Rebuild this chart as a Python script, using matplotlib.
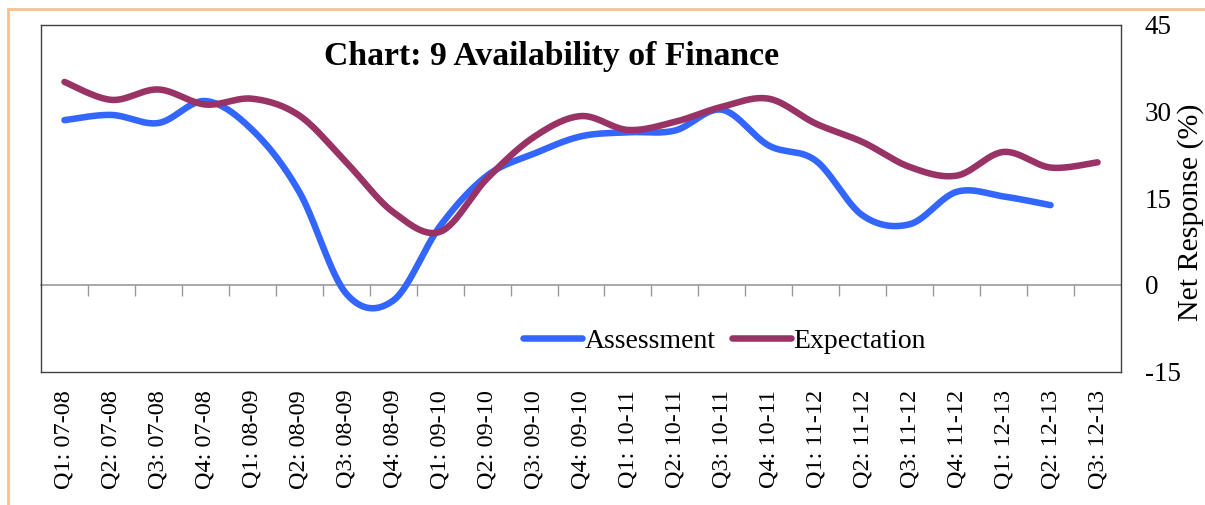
import numpy as np
import matplotlib
matplotlib.use("Agg")
import matplotlib.pyplot as plt
from matplotlib.patches import Rectangle

quarters = ["Q1: 07-08", "Q2: 07-08", "Q3: 07-08", "Q4: 07-08",
            "Q1: 08-09", "Q2: 08-09", "Q3: 08-09", "Q4: 08-09",
            "Q1: 09-10", "Q2: 09-10", "Q3: 09-10", "Q4: 09-10",
            "Q1: 10-11", "Q2: 10-11", "Q3: 10-11", "Q4: 10-11",
            "Q1: 11-12", "Q2: 11-12", "Q3: 11-12", "Q4: 11-12",
            "Q1: 12-13", "Q2: 12-13", "Q3: 12-13"]
assessment = [28.5, 29.4, 28.0, 31.8, 26.8, 16.1, -1.5, -2.7, 10.2, 18.9, 22.7, 25.7,
              26.4, 26.7, 30.3, 24.1, 21.5, 12.0, 10.5, 16.1, 15.3, 13.8]
expectation = [35.1, 32.0, 33.8, 31.2, 32.2, 29.3, 21.2, 12.6, 9.2, 18.4, 25.6, 29.2,
               26.8, 28.2, 30.8, 32.2, 27.9, 24.7, 20.4, 18.9, 23.0, 20.3, 21.2]

plt.rcParams['font.family'] = ['Liberation Serif', 'DejaVu Serif']
plt.rcParams['axes.unicode_minus'] = False


def smooth(y, steps=30):
    # excel-style smoothed line: bezier with catmull-rom control points
    y = np.asarray(y, dtype=float)
    x = np.arange(len(y), dtype=float)
    pts = np.column_stack([x, y])
    out = [pts[0]]
    t = np.linspace(0, 1, steps)[1:, None]
    for i in range(len(pts) - 1):
        p0, p3 = pts[i], pts[i + 1]
        prev = pts[i - 1] if i > 0 else pts[i]
        nxt = pts[i + 2] if i + 2 < len(pts) else pts[i + 1]
        p1 = p0 + (p3 - prev) / 6
        p2 = p3 - (nxt - p0) / 6
        seg = ((1 - t) ** 3 * p0 + 3 * (1 - t) ** 2 * t * p1
               + 3 * (1 - t) * t ** 2 * p2 + t ** 3 * p3)
        out.extend(seg)
    out = np.array(out)
    return out[:, 0], out[:, 1]


fig = plt.figure(figsize=(12.05, 5.05), dpi=100)
ax = fig.add_axes([41 / 1205, 1 - 371.7 / 505, 1080 / 1205, 347 / 505])

xa, ya = smooth(assessment)
xe, ye = smooth(expectation)
ax.plot(xa, ya, color="#3366FF", lw=4.7, solid_capstyle="round", label="Assessment")
ax.plot(xe, ye, color="#993366", lw=4.7, solid_capstyle="round", label="Expectation")

n = len(quarters)
ax.set_xlim(-0.5, n - 0.5)
ax.set_ylim(-15, 45)
ax.set_xticks(range(n))
ax.set_xticklabels(quarters, rotation=90, fontsize=17.5)
ax.tick_params(axis="x", length=0, pad=13)
ax.yaxis.tick_right()
ax.yaxis.set_label_position("right")
ax.set_yticks([-15, 0, 15, 30, 45])
ax.tick_params(axis="y", length=0, pad=17, labelsize=19.5)
ax.set_ylabel("Net Response (%)", fontsize=21.5)
ax.yaxis.set_label_coords((1177 - 41) / 1080, (371.7 - 212) / 347)
for s in ax.spines.values():
    s.set_color("#404040")
    s.set_linewidth(1.0)

# category axis crossing at zero
zero_ax = ax.secondary_xaxis(15 / 60)
zero_ax.spines["bottom"].set_color("#999999")
zero_ax.spines["bottom"].set_linewidth(1.2)
zero_ax.set_xticks(np.arange(0.5, n - 0.5, 1))
zero_ax.set_xticklabels([])
zero_ax.tick_params(axis="x", direction="out", length=8, color="#999999", width=1)

ax.text(0.473, 0.907, "Chart: 9 Availability of Finance", transform=ax.transAxes,
        ha="center", va="center", fontsize=24.3, fontweight="bold")

ax.legend(loc="center", bbox_to_anchor=(0.633, 0.088), ncol=2, frameon=False,
          fontsize=20, handlelength=2.1, handletextpad=0.1, columnspacing=0.6)

fig.patches.append(Rectangle((8 / 1205, -0.1), 1.2, 1 - 9 / 505 + 0.1,
                             transform=fig.transFigure, fill=False,
                             edgecolor="#F9C08F", lw=2))

fig.savefig("out.png", dpi=100)
